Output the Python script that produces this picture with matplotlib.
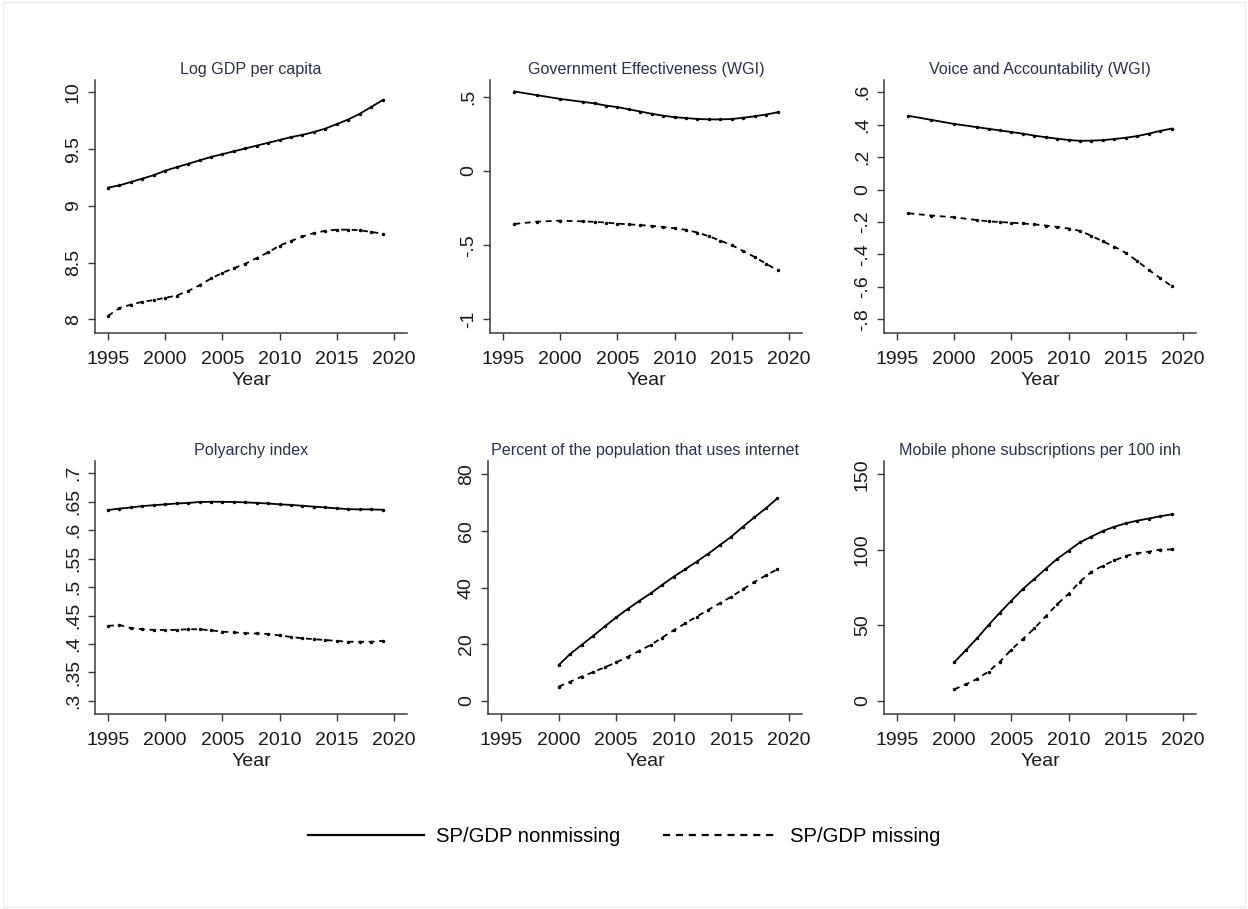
import matplotlib
matplotlib.use('Agg')
import numpy as np
import matplotlib.pyplot as plt
from matplotlib.lines import Line2D
from matplotlib.patches import Rectangle

plt.rcParams['font.family'] = ['Liberation Sans', 'DejaVu Sans']

# years covered by each source
years_gdp = list(range(1995, 2020))
years_wgi = [1996, 1998, 2000] + list(range(2002, 2020))
years_poly = list(range(1995, 2020))
years_itu = list(range(2000, 2020))

# Log GDP per capita
gdp_nonmiss = [9.16, 9.18, 9.21, 9.24, 9.27, 9.31, 9.34, 9.37, 9.40, 9.43, 9.455, 9.48, 9.505,
               9.53, 9.555, 9.58, 9.605, 9.625, 9.65, 9.68, 9.72, 9.76, 9.81, 9.87, 9.93]
gdp_miss = [8.03, 8.10, 8.13, 8.155, 8.17, 8.19, 8.21, 8.25, 8.30, 8.36, 8.41, 8.45, 8.49,
            8.54, 8.59, 8.65, 8.69, 8.73, 8.76, 8.78, 8.79, 8.79, 8.785, 8.77, 8.755]

# Government effectiveness (WGI)
ge_nonmiss = [.535, .51, .485, .465, .455, .44, .43, .415, .40, .385, .372, .362, .356, .35,
              .347, .347, .35, .358, .368, .38, .395]
ge_miss = [-.357, -.342, -.335, -.34, -.343, -.348, -.355, -.36, -.365, -.37, -.378, -.386,
           -.397, -.415, -.44, -.47, -.50, -.54, -.58, -.625, -.67]

# Voice and accountability (WGI)
va_nonmiss = [.455, .43, .405, .385, .375, .365, .355, .345, .333, .323, .314, .306, .301,
              .302, .305, .312, .32, .33, .345, .362, .376]
va_miss = [-.146, -.16, -.171, -.188, -.196, -.2, -.204, -.209, -.214, -.222, -.23, -.24,
           -.255, -.285, -.32, -.352, -.39, -.44, -.495, -.545, -.595]

# Polyarchy index
poly_nonmiss = [.6356, .638, .640, .6425, .644, .6455, .647, .648, .6496, .650, .650, .6496,
                .649, .648, .647, .6455, .6445, .643, .6415, .640, .6385, .637, .6367, .6367, .636]
poly_miss = [.4318, .4335, .428, .426, .4247, .4245, .425, .426, .426, .424, .4218, .4205,
             .419, .4185, .4177, .415, .4125, .410, .4085, .407, .4055, .404, .404, .404, .4054]

# Internet users, % of population
net_nonmiss = [12.7, 16.6, 19.8, 23.0, 26.3, 29.5, 32.5, 35.3, 38.0, 41.0, 43.9, 46.5, 49.2,
               52.0, 55.0, 58.0, 61.5, 64.8, 68.0, 71.5]
net_miss = [5.06, 6.8, 8.6, 10.2, 11.9, 13.6, 15.6, 17.7, 19.8, 22.4, 25.0, 27.4, 29.8, 32.2,
            34.5, 36.8, 39.4, 42.0, 44.3, 46.5]

# Mobile subscriptions per 100 inhabitants
mob_nonmiss = [25.6, 33.5, 41.5, 50.3, 58.5, 66.4, 74.1, 80.7, 87.5, 94.0, 99.5, 105.0, 108.8,
               112.5, 115.3, 117.6, 119.3, 120.7, 122.2, 123.5]
mob_miss = [7.7, 11.0, 14.6, 19.5, 26.0, 34.0, 41.0, 48.0, 56.0, 64.0, 71.0, 79.0, 85.5, 89.5,
            93.0, 96.0, 97.8, 98.8, 100.2, 100.3]

panels = [
    ("Log GDP per capita", years_gdp, gdp_nonmiss, gdp_miss,
     [8, 8.5, 9, 9.5, 10], ["8", "8.5", "9", "9.5", "10"], (7.88, 10.108)),
    ("Government Effectiveness (WGI)", years_wgi, ge_nonmiss, ge_miss,
     [-1, -.5, 0, .5], ["-1", "-.5", "0", ".5"], (-1.092, 0.6125)),
    ("Voice and Accountability (WGI)", years_wgi, va_nonmiss, va_miss,
     [-.8, -.6, -.4, -.2, 0, .2, .4, .6], ["-.8", "-.6", "-.4", "-.2", "0", ".2", ".4", ".6"],
     (-0.8845, 0.676)),
    ("Polyarchy index", years_poly, poly_nonmiss, poly_miss,
     [.3, .35, .4, .45, .5, .55, .6, .65, .7],
     [".3", ".35", ".4", ".45", ".5", ".55", ".6", ".65", ".7"], (0.277, 0.7217)),
    ("Percent of the population that uses internet", years_itu, net_nonmiss, net_miss,
     [0, 20, 40, 60, 80], ["0", "20", "40", "60", "80"], (-4.59, 84.7)),
    ("Mobile phone subscriptions per 100 inh", years_itu, mob_nonmiss, mob_miss,
     [0, 50, 100, 150], ["0", "50", "100", "150"], (-8.6, 158.8)),
]

W, H = 1248, 909
fig = plt.figure(figsize=(W / 100, H / 100), dpi=100)
fig.patches.append(Rectangle((3 / W, 2 / H), 1242 / W, 905 / H, transform=fig.transFigure,
                             fill=False, edgecolor='#ececec', linewidth=1.0))

# axes boxes in pixels: left, top, right, bottom
boxes = [(95, 80, 407, 333), (490, 80, 802, 333), (884, 80, 1196, 333),
         (95, 461, 407, 714), (488, 461, 802, 714), (884, 461, 1196, 714)]

axis_col = '#3a3a3a'
dash = (0, (3.2, 2.6))

for (title, yrs, solid, dashed, yt, ytl, ylim), (l, t, r, b) in zip(panels, boxes):
    ax = fig.add_axes([l / W, 1 - b / H, (r - l) / W, (b - t) / H])
    ax.plot(yrs, solid, color='black', lw=1.3, marker='o', ms=1.5)
    ax.plot(yrs, dashed, color='black', lw=1.3, linestyle=dash, marker='o', ms=1.5)
    ax.set_xlim(1993.86, 2021.14)
    ax.set_ylim(*ylim)
    ax.set_xticks([1995, 2000, 2005, 2010, 2015, 2020])
    ax.set_yticks(yt)
    ax.set_yticklabels(ytl)
    for lab in ax.get_yticklabels():
        lab.set_rotation(90)
        lab.set_va('center')
    ax.tick_params(direction='out', length=5, width=1.0, color=axis_col,
                   labelsize=14, labelcolor='#1a1a1a')
    ax.tick_params(axis='x', pad=8)
    ax.tick_params(axis='y', pad=4.5)
    for side in ['top', 'right']:
        ax.spines[side].set_visible(False)
    for side in ['left', 'bottom']:
        ax.spines[side].set_color(axis_col)
        ax.spines[side].set_linewidth(1.1)
    ax.set_xlabel("Year", fontsize=14, color='#1a1a1a', labelpad=2.5)
    ax.set_title(title, fontsize=11.6, color='#2a2f4f', pad=4.5)

handles = [Line2D([], [], color='black', lw=1.6),
           Line2D([], [], color='black', lw=1.6, linestyle=(0, (3.2, 2.6)))]
fig.legend(handles, ["SP/GDP nonmissing", "SP/GDP missing"], loc='center',
           bbox_to_anchor=(624.5 / W, 1 - 837 / H), ncol=2, frameon=False, fontsize=14.6,
           handlelength=5.7, handletextpad=0.6, columnspacing=2.1)

fig.savefig('out.png', dpi=100, facecolor='white')
